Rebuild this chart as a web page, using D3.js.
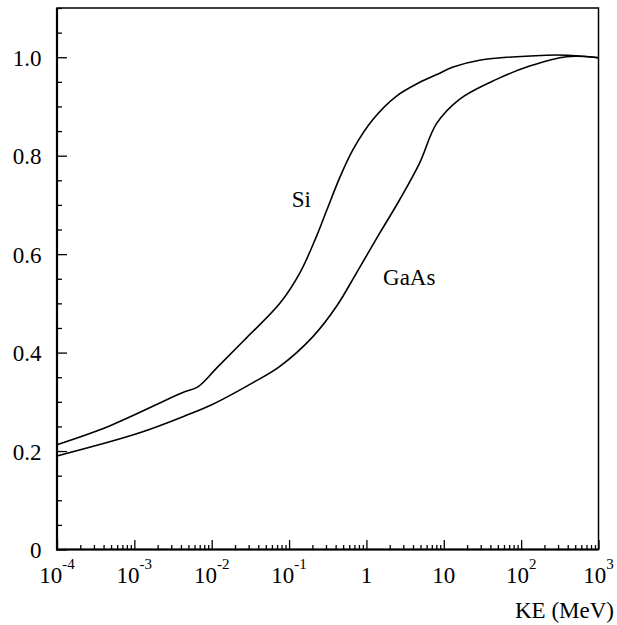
<!DOCTYPE html>
<html>
<head>
<meta charset="utf-8">
<script src="https://cdn.jsdelivr.net/npm/d3@7"></script>
<style>
  html, body { margin: 0; padding: 0; background: #fff; }
  svg { display: block; }
</style>
</head>
<body>
<svg id="chart" width="617" height="625"></svg>
<script>
// ---- data ----
const siEnergy = [1e-4, 4.6e-4, 4.1e-3, 6.7e-3, 0.0118, 0.0282, 0.076, 0.138, 0.226, 0.305, 0.453, 0.673, 1.22, 2.45, 4.9, 8.44, 13.2, 29, 212, 385, 1000];
const siValue  = [0.213, 0.250, 0.318, 0.331, 0.370, 0.430, 0.500, 0.562, 0.636, 0.688, 0.756, 0.813, 0.874, 0.921, 0.949, 0.966, 0.980, 0.994, 1.004, 1.004, 0.999];

const gaasEnergy = [1e-4, 1.12e-3, 4.97e-3, 0.01, 0.036, 0.076, 0.205, 0.411, 0.745, 1.49, 2.7, 4.9, 8.05, 16.1, 48, 129, 385, 1000];
const gaasValue  = [0.190, 0.236, 0.274, 0.294, 0.341, 0.372, 0.433, 0.494, 0.562, 0.643, 0.711, 0.786, 0.865, 0.915, 0.955, 0.982, 1.001, 0.999];

const xTickValues = [1e-4, 1e-3, 1e-2, 1e-1, 1, 10, 100, 1000];
const xTickBase   = ["10", "10", "10", "10", "1", "10", "10", "10"];
const xTickExp    = ["-4", "-3", "-2", "-1", "", "", "2", "3"];
const yTickValues = [0, 0.2, 0.4, 0.6, 0.8, 1.0];
const yTickLabels = ["0", "0.2", "0.4", "0.6", "0.8", "1.0"];
const curveLabels = [
  {name: "Si",   energy: 0.108, value: 0.695},
  {name: "GaAs", energy: 1.64,  value: 0.538}
];
const xAxisTitle = "KE (MeV)";

// ---- layout ----
const FONT = "'Liberation Serif', 'Times New Roman', Times, Tinos, 'DejaVu Serif', serif";
const mL = 57, mR = 598.5, mT = 8, mB = 549.5;
const svg = d3.select("#chart").attr("font-family", FONT);

const x = d3.scaleLog().domain([1e-4, 1e3]).range([mL, mR]);
const y = d3.scaleLinear().domain([0, 1.1]).range([mB, mT]);

// frame (top & right)
svg.append("rect")
  .attr("x", mL).attr("y", mT)
  .attr("width", mR - mL).attr("height", mB - mT)
  .attr("fill", "none").attr("stroke", "#000").attr("stroke-width", 1.5);

// curves
const line = d3.line().x(d => x(d[0])).y(d => y(d[1])).curve(d3.curveCatmullRom.alpha(0.5));
const series = [
  d3.zip(siEnergy, siValue),
  d3.zip(gaasEnergy, gaasValue)
];
svg.append("g").selectAll("path").data(series).join("path")
  .attr("d", line)
  .attr("fill", "none").attr("stroke", "#000").attr("stroke-width", 1.6);

// x axis (ticks inward)
const xMinor = [];
for (let e = -4; e < 3; e++) for (let m = 2; m <= 9; m++) xMinor.push(m * Math.pow(10, e));
const xAxisMajor = d3.axisBottom(x).tickValues(xTickValues).tickSize(-9.5).tickFormat("");
const xAxisMinor = d3.axisBottom(x).tickValues(xMinor).tickSize(-4.5).tickFormat("");
[xAxisMinor, xAxisMajor].forEach(ax => {
  const g = svg.append("g").attr("transform", `translate(0,${mB})`).call(ax);
  g.select(".domain").remove();
  g.selectAll("line").attr("stroke", "#000").attr("stroke-width", 1.3);
});
svg.append("line").attr("x1", mL - 1).attr("x2", mR).attr("y1", mB).attr("y2", mB)
  .attr("stroke", "#000").attr("stroke-width", 2.2);

// y axis (ticks inward)
const yMinor = d3.range(0, 1.1001, 0.05).filter(v => Math.abs(v * 5 - Math.round(v * 5)) > 1e-6);
const yAxisMajor = d3.axisLeft(y).tickValues(yTickValues).tickSize(-10).tickFormat("");
const yAxisMinor = d3.axisLeft(y).tickValues(yMinor).tickSize(-5).tickFormat("");
[yAxisMinor, yAxisMajor].forEach(ax => {
  const g = svg.append("g").attr("transform", `translate(${mL},0)`).call(ax);
  g.select(".domain").remove();
  g.selectAll("line").attr("stroke", "#000").attr("stroke-width", 1.3);
});
svg.append("line").attr("x1", mL).attr("x2", mL).attr("y1", mT).attr("y2", mB + 1)
  .attr("stroke", "#000").attr("stroke-width", 2.2);

// y tick labels
svg.append("g").selectAll("text").data(yTickValues).join("text")
  .attr("font-family", FONT)
  .attr("x", mL - 15.5).attr("y", d => y(d) + 8.5)
  .attr("text-anchor", "end").attr("font-size", 23)
  .text((d, i) => yTickLabels[i]);

// x tick labels with superscripts
const xl = svg.append("g").selectAll("text").data(xTickValues).join("text")
  .attr("font-family", FONT)
  .attr("x", d => x(d)).attr("y", mB + 33)
  .attr("text-anchor", "middle").attr("font-size", 23);
xl.each(function(d, i) {
  const t = d3.select(this);
  t.append("tspan").text(xTickBase[i]);
  if (xTickExp[i]) {
    t.append("tspan").attr("font-size", 15).attr("dy", -14).text(xTickExp[i]);
  }
});

// axis title
svg.append("text").attr("font-family", FONT).attr("x", 614).attr("y", 618)
  .attr("text-anchor", "end").attr("font-size", 23).text(xAxisTitle);

// curve labels
svg.append("g").selectAll("text").data(curveLabels).join("text")
  .attr("font-family", FONT)
  .attr("x", d => x(d.energy)).attr("y", d => y(d.value))
  .attr("font-size", 23).text(d => d.name);
</script>
</body>
</html>
